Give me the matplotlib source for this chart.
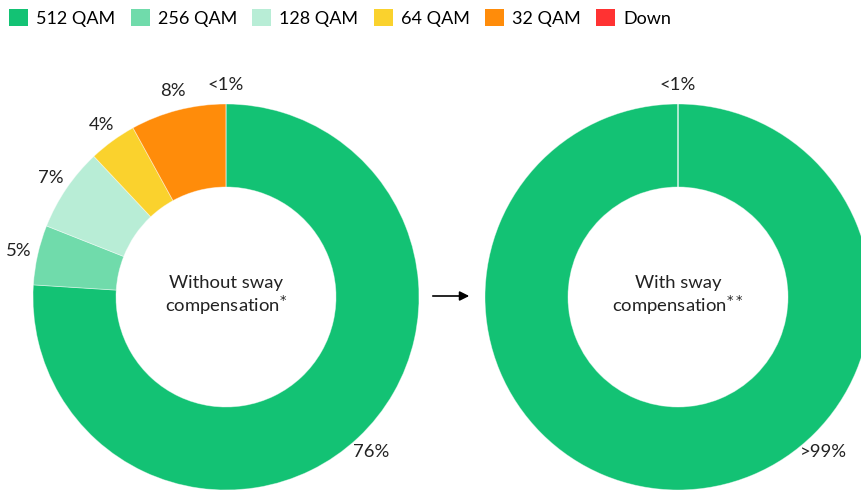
import numpy as np
import matplotlib.pyplot as plt
from matplotlib.patches import Patch

plt.rcParams['font.family'] = ['Lato', 'DejaVu Sans']

########################################
# Data
########################################

categories = ['512 QAM', '256 QAM', '128 QAM', '64 QAM', '32 QAM', 'Down']
colors = ['#13c274', '#70dbab', '#b8edd6', '#fad22d', '#ff8c0a', '#ff3232']

without_comp = [76, 5, 7, 4, 8, 0]
without_labels = ['76%', '5%', '7%', '4%', '8%', '<1%']

with_comp = [100, 0, 0, 0, 0, 0]
with_labels = ['>99%', '', '', '', '', '<1%']

########################################
# Layout (pixels)
########################################

W, H = 862, 493
R = 193
RING = 83
LABEL_R = 1.10
FS = 13.3
TXT = '#222222'
left_c = (226, H - 297)
right_c = (678, H - 297)

fig = plt.figure(figsize=(W / 100, H / 100), dpi=100)
ax = fig.add_axes([0, 0, 1, 1])

wp = dict(width=RING, edgecolor=(1, 1, 1, 0.45), linewidth=0.6)

wedges, texts = ax.pie(without_comp, colors=colors, labels=without_labels,
                       startangle=90, counterclock=False, radius=R,
                       center=left_c, labeldistance=LABEL_R,
                       wedgeprops=wp, textprops=dict(fontsize=FS, color=TXT))
for t in texts:
    t.set_ha('center')
    t.set_va('center')

ax.pie(with_comp, colors=colors, startangle=90, counterclock=False,
       radius=R, center=right_c, wedgeprops=wp)

# right labels sit at the same angles as the left ones
cum = np.cumsum([0] + without_comp)
for i, lab in enumerate(with_labels):
    if not lab:
        continue
    mid = (cum[i] + cum[i + 1]) / 2 / 100 * 360
    ang = np.deg2rad(90 - mid)
    ax.text(right_c[0] + LABEL_R * R * np.cos(ang),
            right_c[1] + LABEL_R * R * np.sin(ang),
            lab, ha='center', va='center', fontsize=FS, color=TXT)

ax.text(left_c[0], left_c[1] + 1, 'Without sway\ncompensation$^{*}$',
        ha='center', va='center', fontsize=FS, color=TXT, linespacing=1.15)
ax.text(right_c[0], right_c[1] + 1, 'With sway\ncompensation$^{**}$',
        ha='center', va='center', fontsize=FS, color=TXT, linespacing=1.15)

ax.annotate('', xy=(472, H - 296), xytext=(430, H - 296),
            arrowprops=dict(arrowstyle='-|>', color='black', lw=1.2, mutation_scale=14))

ax.set_xlim(0, W)
ax.set_ylim(0, H)
ax.set_aspect('equal')
ax.axis('off')

handles = [Patch(facecolor=c, edgecolor='none') for c in colors]
fig.legend(handles, categories, loc='upper left', bbox_to_anchor=(0.0, 1.0),
           ncol=6, frameon=False, fontsize=13, handlelength=1.05, handleheight=1.05,
           handletextpad=0.45, columnspacing=0.85, borderaxespad=0.3, borderpad=0.2)

fig.savefig('out.png', dpi=100)
